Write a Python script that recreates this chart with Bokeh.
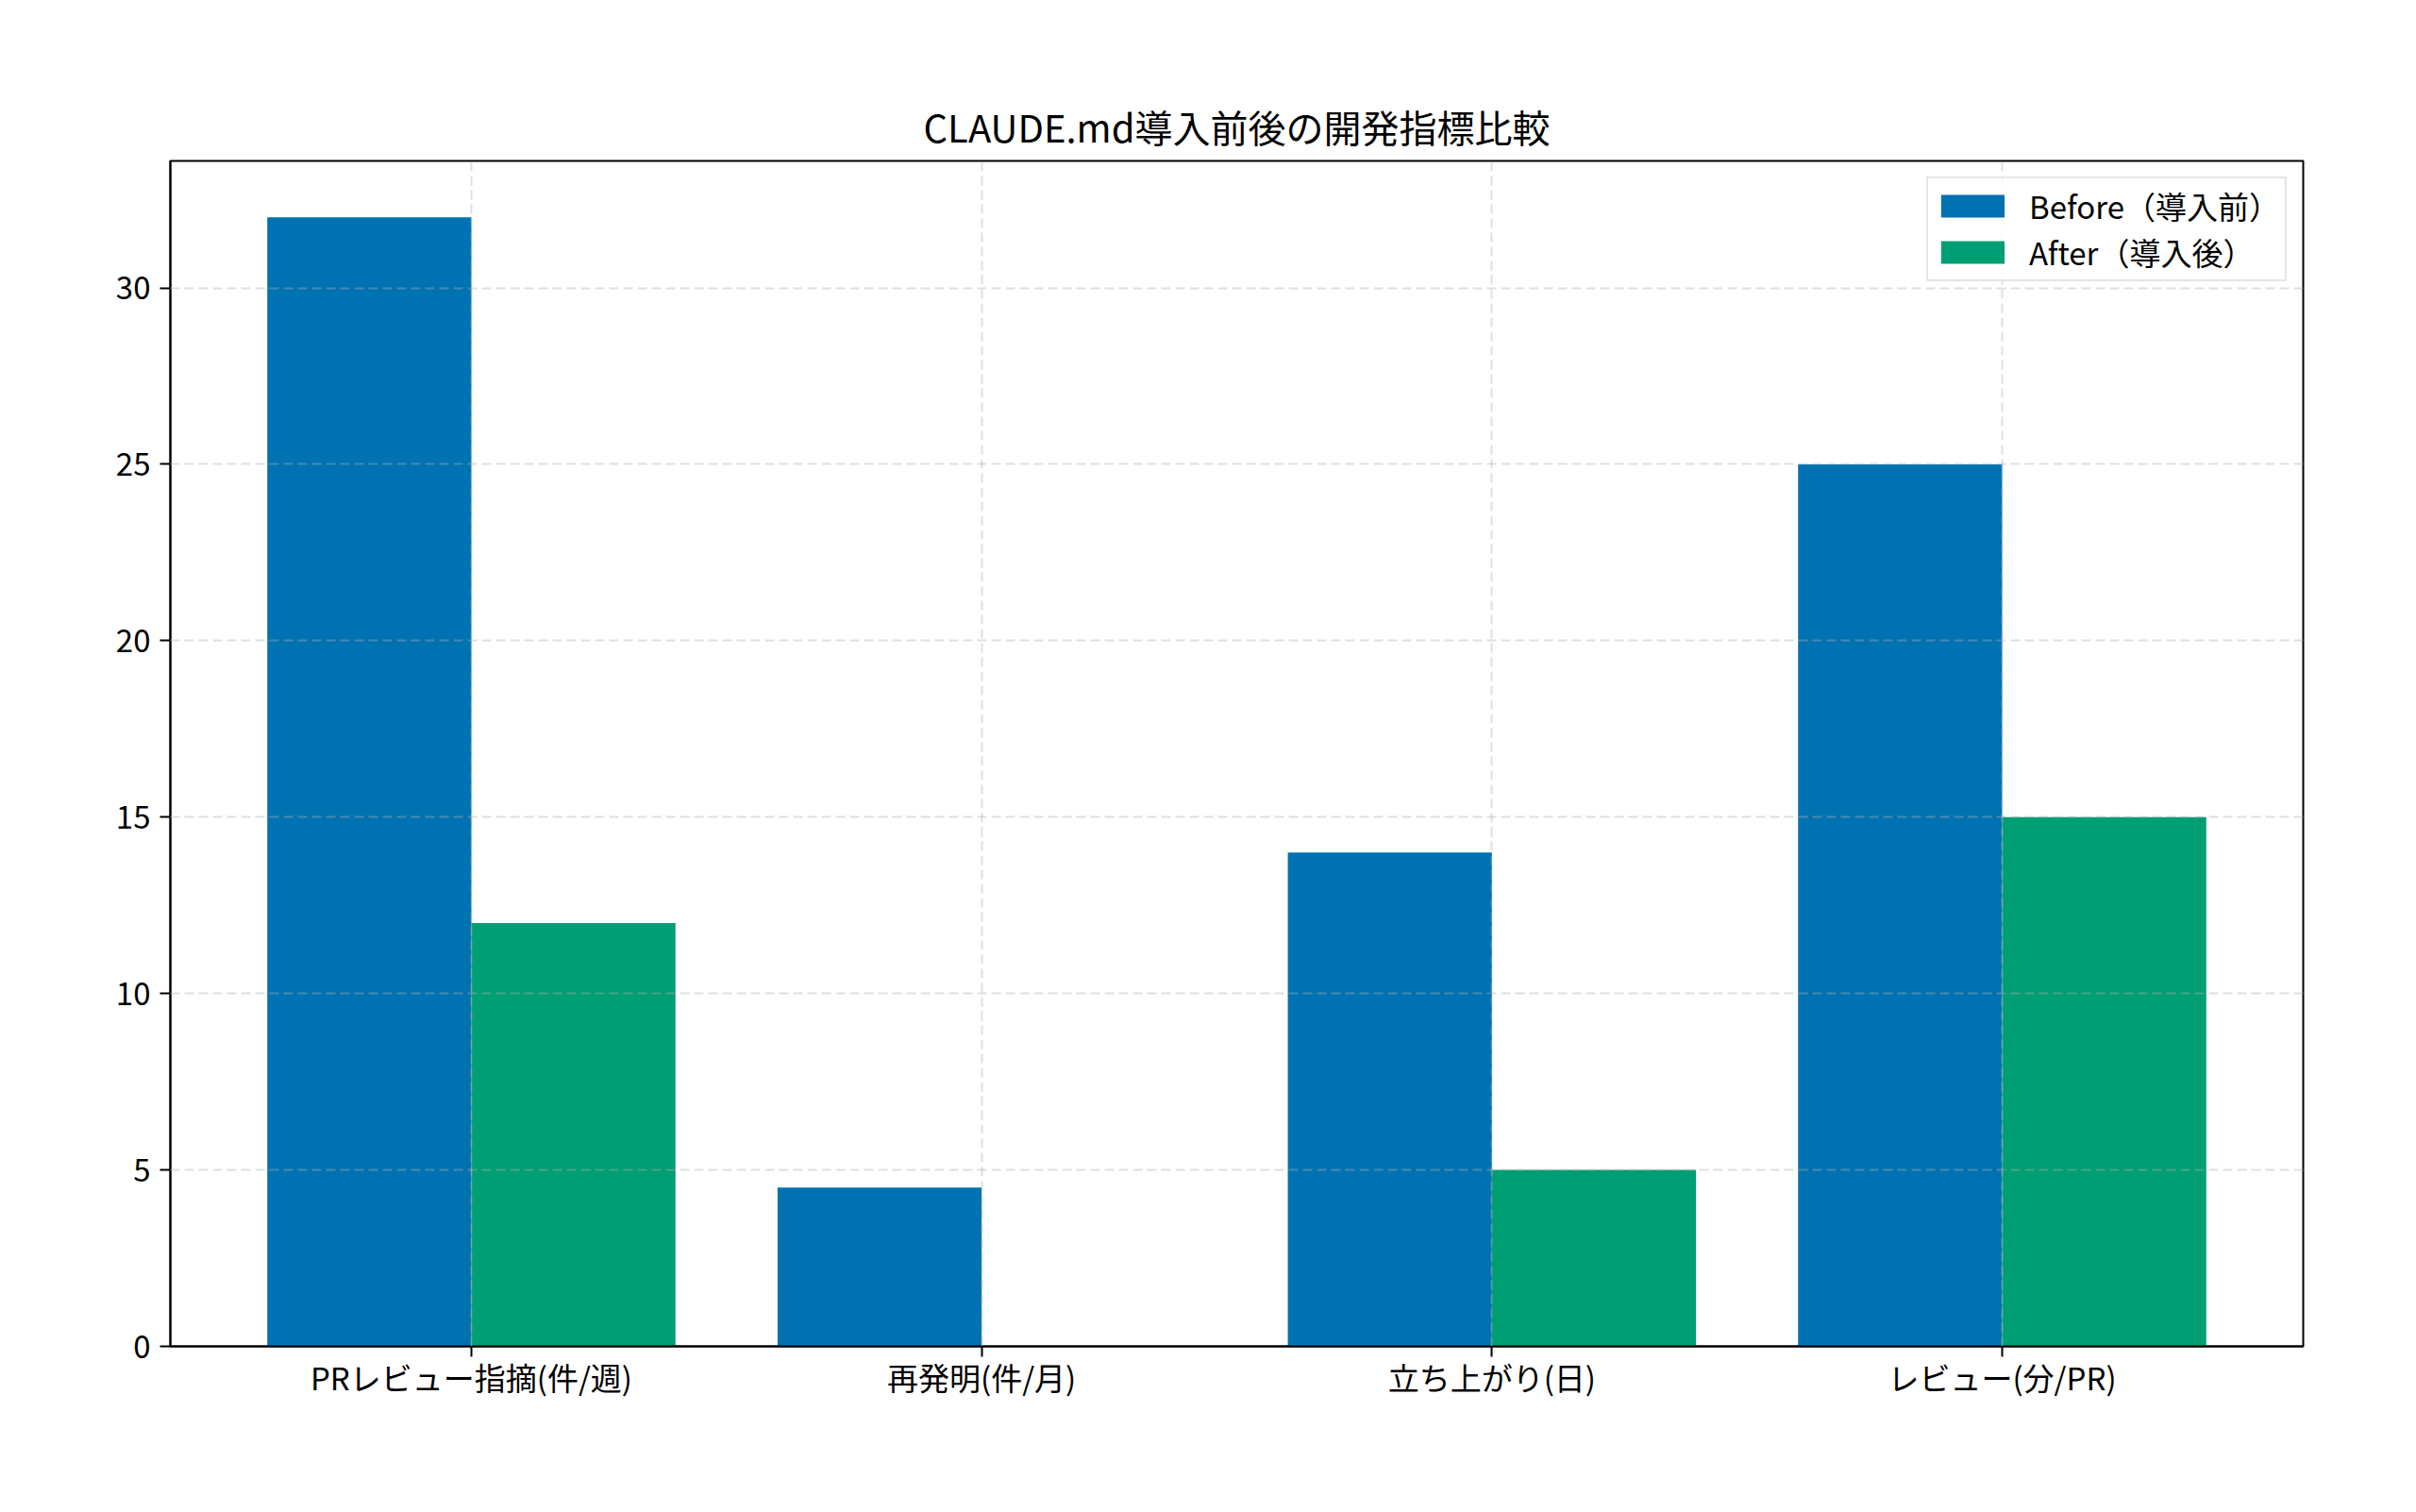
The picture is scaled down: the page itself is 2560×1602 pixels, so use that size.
from bokeh.plotting import figure
from bokeh.models import FixedTicker, Range1d
from bokeh.embed import file_html
from bokeh.resources import INLINE

# Data
categories = ["PRレビュー指摘(件/週)", "再発明(件/月)", "立ち上がり(日)", "レビュー(分/PR)"]
before = [32, 4.5, 14, 25]
after = [12, 0, 5, 15]
y_ticks = [0, 5, 10, 15, 20, 25, 30]

FONT = "Noto Sans CJK JP"
BLUE = "#0072B2"
GREEN = "#009E73"

idx = list(range(len(categories)))
bar_w = 0.4
x_before = [i - bar_w / 2 for i in idx]
x_after = [i + bar_w / 2 for i in idx]

p = figure(width=2544, height=1580,
           title="CLAUDE.md導入前後の開発指標比較",
           x_range=Range1d(-0.59, len(categories) - 1 + 0.59),
           y_range=Range1d(0, max(before) * 1.05),
           output_backend="svg", toolbar_location=None,
           min_border_left=180, min_border_right=104,
           min_border_top=170, min_border_bottom=154)

p.vbar(x=x_before, top=before, width=bar_w, color=BLUE, line_color=None,
       legend_label="Before（導入前）")
p.vbar(x=x_after, top=after, width=bar_w, color=GREEN, line_color=None,
       legend_label="After（導入後）")

# title
p.title.text_font = FONT
p.title.text_font_size = "40px"
p.title.text_font_style = "normal"
p.title.align = "center"
p.title.text_color = "black"
p.title.standoff = 15

# frame
p.outline_line_color = "black"
p.outline_line_width = 2
p.outline_line_alpha = 1

# axes
p.xaxis.ticker = FixedTicker(ticks=idx)
p.xaxis.major_label_overrides = {i: c for i, c in zip(idx, categories)}
p.yaxis.ticker = FixedTicker(ticks=y_ticks)
for ax in (p.xaxis, p.yaxis):
    ax.axis_line_color = "black"
    ax.axis_line_width = 2
    ax.major_tick_line_width = 2
    ax.major_tick_line_color = "black"
    ax.major_tick_out = 11
    ax.major_tick_in = 0
    ax.minor_tick_line_color = None
    ax.major_label_text_font = FONT
    ax.major_label_text_font_size = "33px"
    ax.major_label_text_color = "black"
p.yaxis.major_label_standoff = 10
p.xaxis.major_label_standoff = -3

# dashed grid drawn over the bars
p.xgrid.ticker = FixedTicker(ticks=idx)
p.ygrid.ticker = FixedTicker(ticks=y_ticks)
for g in (p.xgrid, p.ygrid):
    g.grid_line_color = "#b0b0b0"
    g.grid_line_alpha = 0.4
    g.grid_line_width = 2
    g.grid_line_dash = "10 5"
    g.level = "annotation"

# legend
p.legend.location = "top_right"
p.legend.margin = 17
p.legend.padding = 5
p.legend.spacing = 1
p.legend.glyph_width = 84
p.legend.glyph_height = 30
p.legend.label_standoff = 18
p.legend.label_text_font = FONT
p.legend.label_text_font_size = "33px"
p.legend.label_text_color = "black"
p.legend.border_line_color = "#cccccc"
p.legend.border_line_width = 2
p.legend.background_fill_alpha = 0.8

open("out.html", "w").write(file_html(p, INLINE))
